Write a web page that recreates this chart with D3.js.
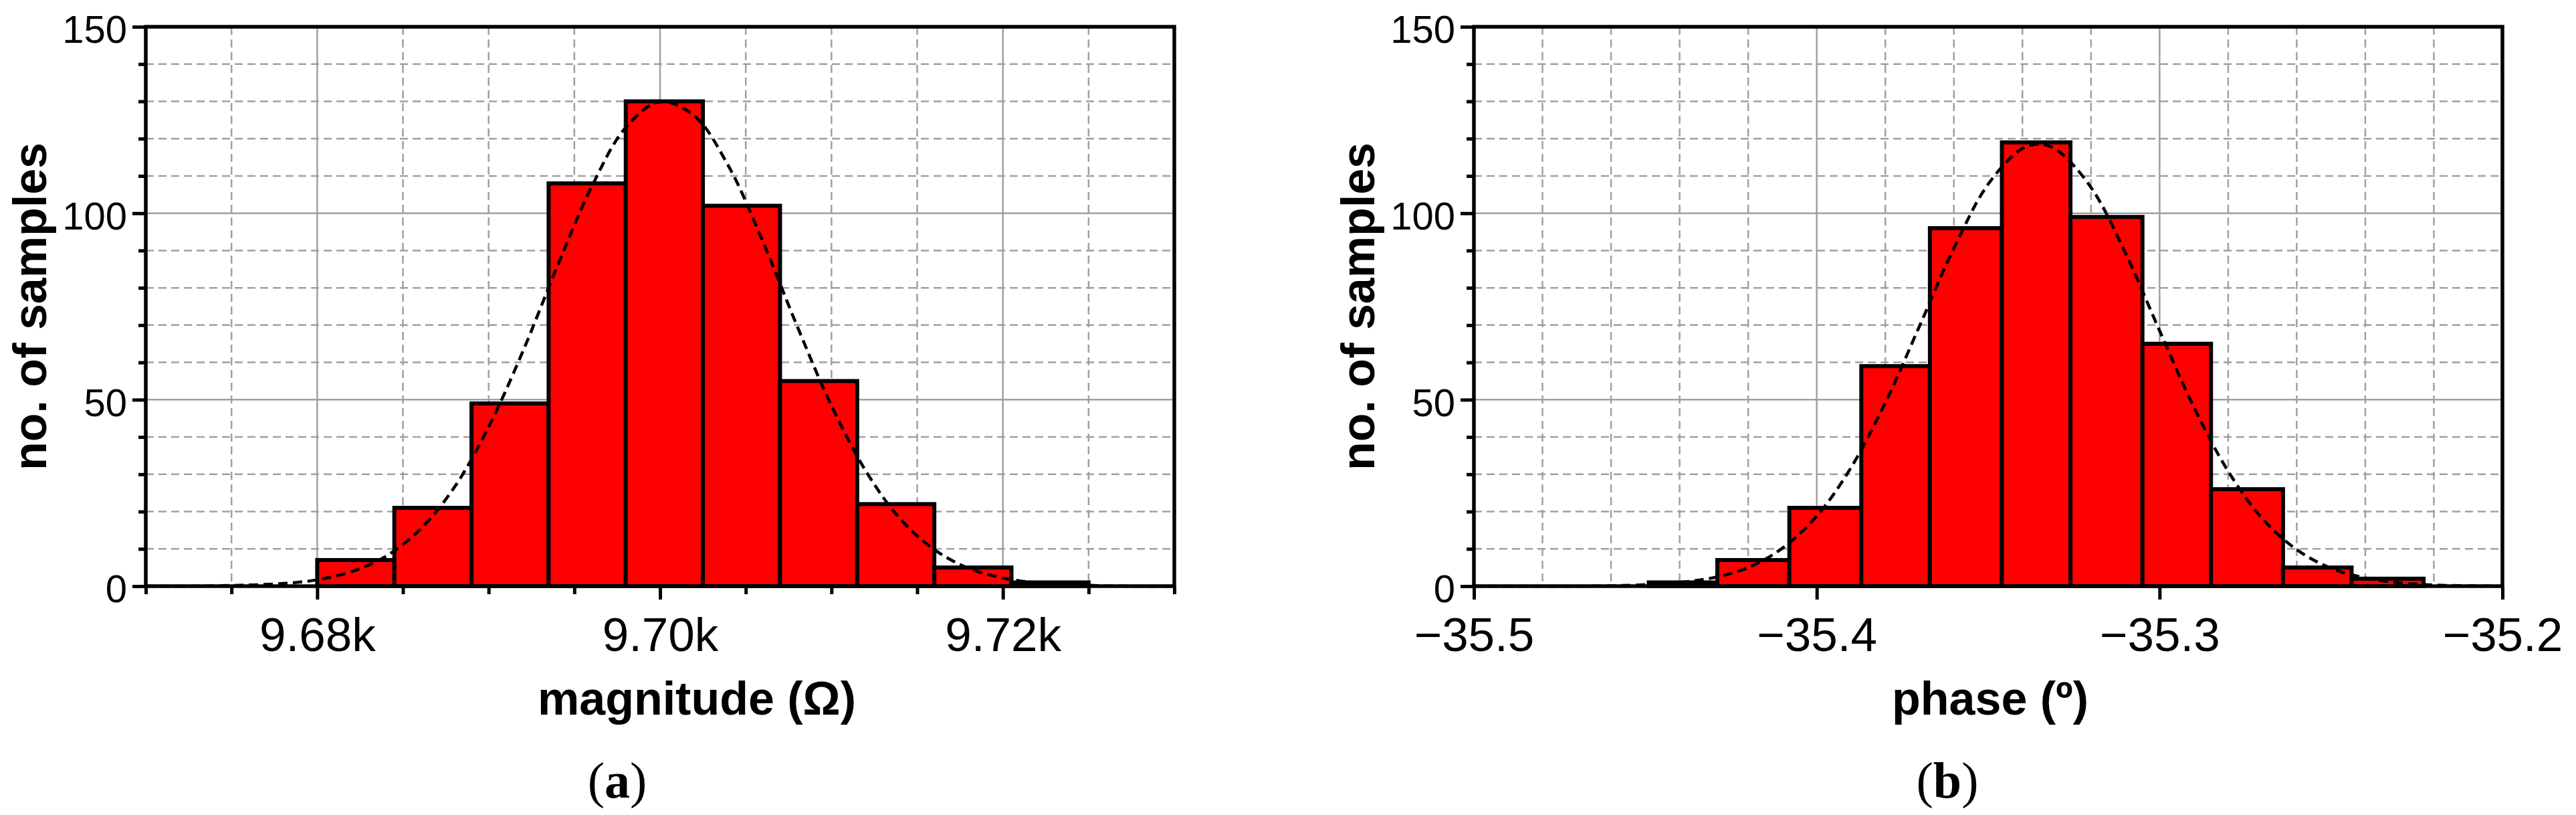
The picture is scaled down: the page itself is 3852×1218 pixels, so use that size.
<!DOCTYPE html>
<html><head><meta charset="utf-8">
<script src="https://cdn.jsdelivr.net/npm/d3@7"></script>
<style>html,body{margin:0;padding:0;background:#fff;} svg{display:block}</style>
</head><body>
<svg id="chart" width="3852" height="1218"></svg>
<script>
// ---------- data ----------
const magBinEdges = [9680, 9684.5, 9689, 9693.5, 9698, 9702.5, 9707, 9711.5, 9716, 9720.5, 9725];
const magCounts   = [7, 21, 49, 108, 130, 102, 55, 22, 5, 1];
const magFitX = [9670,9672,9674,9676,9678,9680,9682,9684,9686,9688,9690,9692,9694,9696,9698,9700,9702,9704,9706,9708,9710,9712,9714,9716,9718,9720,9722,9724,9726,9728,9730];
const magFitY = [0,0,0.1,0.3,0.7,1.7,3.9,8.0,15.2,26.5,42.7,63.0,85.7,107.0,123.0,129.9,126.1,112.6,92.4,69.7,48.4,30.9,18.1,9.8,4.8,2.2,0.9,0.4,0.1,0,0];

const phaseBinEdges = [-35.449, -35.429, -35.408, -35.387, -35.367, -35.346, -35.326, -35.305, -35.285, -35.264, -35.244, -35.223];
const phaseCounts   = [1, 7, 21, 59, 96, 119, 99, 65, 26, 5, 2];
const phaseFitX = [-35.50,-35.49,-35.48,-35.47,-35.46,-35.45,-35.44,-35.43,-35.42,-35.41,-35.40,-35.39,-35.38,-35.37,-35.36,-35.35,-35.34,-35.335,-35.33,-35.32,-35.31,-35.30,-35.29,-35.28,-35.27,-35.26,-35.25,-35.24,-35.23,-35.22,-35.21,-35.20];
const phaseFitY = [0,0,0,0,0.1,0.4,1.0,2.3,5.0,10.2,18.8,31.8,49.2,69.8,90.6,107.8,117.4,118.5,117.0,106.9,89.4,68.5,48.0,30.8,18.1,9.8,4.8,2.2,0.9,0.3,0.1,0];

const magTickValues = [9680, 9700, 9720];
const magTickLabels = ["9.68k", "9.70k", "9.72k"];
const phaseTickValues = [-35.5, -35.4, -35.3, -35.2];
const phaseTickLabels = ["\u221235.5", "\u221235.4", "\u221235.3", "\u221235.2"];
const countTickValues = [0, 50, 100, 150];
const countTickLabels = ["0", "50", "100", "150"];

// ---------- drawing ----------
const svg = d3.select("#chart");
svg.append("rect").attr("width", 3852).attr("height", 1218).attr("fill", "#fff");
const SANS = "'Liberation Sans', Arial, Helvetica, sans-serif";
const SERIF = "'Liberation Serif', 'Times New Roman', serif";
const GRID = "#a0a0a0";

function drawPanel(cfg) {
  const x = d3.scaleLinear().domain(cfg.domain).range(cfg.range);
  const y = d3.scaleLinear().domain([0, 150]).range([876, 40]);
  const g = svg.append("g");
  const [x0, x1] = cfg.range;

  // grid
  const xMinor = x.ticks(cfg.minorCount);
  const isMajorX = v => cfg.tickValues.some(t => Math.abs(t - v) < 1e-6);
  g.append("g").selectAll("line").data(xMinor).join("line")
    .attr("x1", d => x(d)).attr("x2", d => x(d)).attr("y1", y(150)).attr("y2", y(0))
    .attr("stroke", GRID).attr("stroke-width", 2.5)
    .attr("stroke-dasharray", d => isMajorX(d) ? null : "12,7");
  const yMinor = y.ticks(15);
  g.append("g").selectAll("line").data(yMinor).join("line")
    .attr("x1", x0).attr("x2", x1).attr("y1", d => y(d)).attr("y2", d => y(d))
    .attr("stroke", GRID).attr("stroke-width", 2.5)
    .attr("stroke-dasharray", d => (d % 50 === 0) ? null : "12,7");

  // bars
  const bins = cfg.counts.map((c, i) => ({x0: cfg.edges[i], x1: cfg.edges[i + 1], c}));
  g.append("g").selectAll("rect").data(bins).join("rect")
    .attr("x", d => x(d.x0)).attr("width", d => x(d.x1) - x(d.x0))
    .attr("y", d => y(d.c)).attr("height", d => y(0) - y(d.c))
    .attr("fill", "#ff0000").attr("stroke", "#000").attr("stroke-width", 6);

  // fit curve
  const pts = cfg.fitX.map((v, i) => [v, cfg.fitY[i]]);
  g.append("path").datum(pts)
    .attr("d", d3.line().x(d => x(d[0])).y(d => y(d[1])).curve(d3.curveCatmullRom.alpha(0.5)))
    .attr("fill", "none").attr("stroke", "#000").attr("stroke-width", 4.5)
    .attr("stroke-dasharray", "14,8");

  // frame
  g.append("rect").attr("x", x0).attr("y", 40).attr("width", x1 - x0).attr("height", 836)
    .attr("fill", "none").attr("stroke", "#000").attr("stroke-width", 5.5);

  // y axis minor ticks
  const yMinorAxis = g.append("g").attr("transform", `translate(${x0},0)`)
    .call(d3.axisLeft(y).tickValues(yMinor.filter(d => d % 50 !== 0)).tickSize(11).tickFormat(""));
  // y axis major
  const yAxis = g.append("g").attr("transform", `translate(${x0},0)`)
    .call(d3.axisLeft(y).tickValues(countTickValues).tickSize(20).tickPadding(8)
      .tickFormat((d, i) => countTickLabels[i]));
  [yMinorAxis, yAxis].forEach(a => {
    a.select(".domain").remove();
    a.selectAll(".tick line").attr("stroke", "#000").attr("stroke-width", 5);
  });
  yAxis.selectAll(".tick text").attr("font-family", SANS).attr("font-size", 58)
    .attr("fill", "#000").attr("dy", "0.41em");

  // x axis
  if (cfg.xMinorTicks) {
    const xm = g.append("g").attr("transform", "translate(0,876)")
      .call(d3.axisBottom(x).tickValues(xMinor.filter(d => !isMajorX(d))).tickSize(12).tickFormat(""));
    xm.select(".domain").remove();
    xm.selectAll(".tick line").attr("stroke", "#000").attr("stroke-width", 5);
  }
  const xAxis = g.append("g").attr("transform", "translate(0,876)")
    .call(d3.axisBottom(x).tickValues(cfg.tickValues).tickSize(20).tickPadding(26.6)
      .tickFormat((d, i) => cfg.tickLabels[i]));
  xAxis.select(".domain").remove();
  xAxis.selectAll(".tick line").attr("stroke", "#000").attr("stroke-width", 5);
  xAxis.selectAll(".tick text").attr("font-family", SANS).attr("font-size", 71).attr("fill", "#000");

  // axis titles
  g.append("text").attr("transform", `translate(${cfg.yTitleX},458) rotate(-90)`)
    .attr("text-anchor", "middle").attr("font-family", SANS).attr("font-weight", "bold")
    .attr("font-size", 70).attr("fill", "#000").text("no. of samples");
  g.append("text").attr("x", cfg.xTitleX).attr("y", 1068)
    .attr("text-anchor", "middle").attr("font-family", SANS).attr("font-weight", "bold")
    .attr("font-size", 70).attr("fill", "#000").text(cfg.xTitle);

  // caption
  const cap = g.append("text").attr("x", cfg.capX).attr("y", 1192).attr("text-anchor", "middle")
    .attr("font-family", SERIF).attr("font-size", 76).attr("fill", "#000");
  cap.append("tspan").text("(");
  cap.append("tspan").attr("font-weight", "bold").text(cfg.cap);
  cap.append("tspan").text(")");
}

drawPanel({
  domain: [9670, 9730], range: [218, 1756], minorCount: 12,
  edges: magBinEdges, counts: magCounts, fitX: magFitX, fitY: magFitY,
  tickValues: magTickValues, tickLabels: magTickLabels, xMinorTicks: true,
  yTitleX: 69, xTitle: "magnitude (\u03A9)", xTitleX: 1042, capX: 923, cap: "a"
});
drawPanel({
  domain: [-35.5, -35.2], range: [2204, 3742], minorCount: 15,
  edges: phaseBinEdges, counts: phaseCounts, fitX: phaseFitX, fitY: phaseFitY,
  tickValues: phaseTickValues, tickLabels: phaseTickLabels, xMinorTicks: false,
  yTitleX: 2055, xTitle: "phase (\u00BA)", xTitleX: 2976, capX: 2912, cap: "b"
});
</script>
</body></html>
